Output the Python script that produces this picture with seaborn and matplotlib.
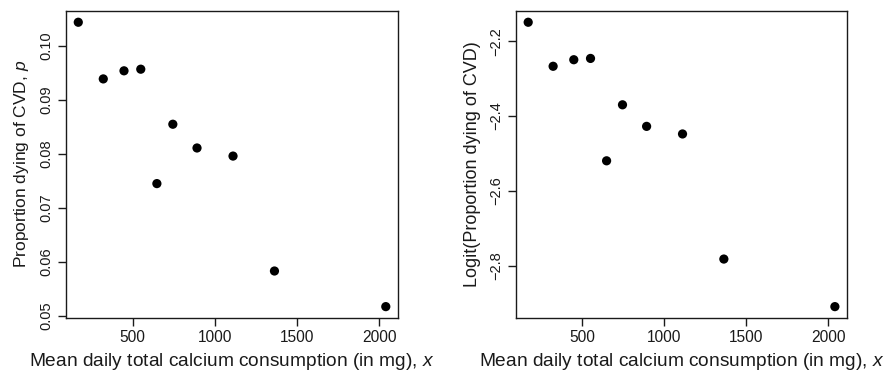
import numpy as np
import pandas as pd
import matplotlib
matplotlib.use("Agg")
import matplotlib.pyplot as plt
import seaborn as sns

# Mean daily total calcium consumption (mg) and proportion dying of CVD
calcium_mg = [169, 321, 447, 549, 647, 744, 891, 1110, 1362, 2039]
prop_cvd = [0.1044, 0.0939, 0.0954, 0.0957, 0.0745, 0.0855, 0.0811, 0.0796, 0.0583, 0.0517]

x_ticks = [500, 1000, 1500, 2000]
p_ticks = [0.05, 0.06, 0.07, 0.08, 0.09, 0.10]
logit_ticks = [-2.8, -2.6, -2.4, -2.2]

df = pd.DataFrame({"calcium": calcium_mg, "p": prop_cvd})
df["logit_p"] = np.log(df["p"] / (1 - df["p"]))

sns.set_style("ticks")
plt.rcParams["font.family"] = ["Liberation Sans", "DejaVu Sans"]
plt.rcParams["mathtext.fontset"] = "custom"
plt.rcParams["mathtext.rm"] = "Liberation Sans"
plt.rcParams["mathtext.it"] = "Liberation Sans:italic"

ink = "#1a1a1a"
fig = plt.figure(figsize=(8.88, 3.75), dpi=100)
ax1 = fig.add_axes([0.0743, 0.152, 0.374, 0.819])
ax2 = fig.add_axes([0.581, 0.152, 0.373, 0.819])


def r_style(ax, yticks, fmt):
    ax.margins(0.04)
    ax.set_xticks(x_ticks)
    ax.set_yticks(yticks)
    ax.set_yticklabels([fmt(v).replace("-", "\u2212") for v in yticks],
                       rotation=90, va="center")
    for s in ax.spines.values():
        s.set_visible(True)
        s.set_color(ink)
        s.set_linewidth(1.0)
    ax.tick_params(direction="out", length=6, width=1.0, colors=ink,
                   labelcolor=ink, pad=3)
    ax.tick_params(axis="x", labelsize=11.2)
    ax.tick_params(axis="y", labelsize=10.5)
    ax.grid(False)


xlab = "Mean daily total calcium consumption (in mg), $x$"

sns.scatterplot(data=df, x="calcium", y="p", ax=ax1, color="black",
                s=44, edgecolor="none", linewidth=0)
r_style(ax1, p_ticks, lambda v: f"{v:.2f}")
ax1.set_xlabel(xlab, fontsize=13.8, color=ink, labelpad=4)
ax1.set_ylabel("Proportion dying of CVD, $p$", fontsize=12.5, color=ink,
               labelpad=6)

sns.scatterplot(data=df, x="calcium", y="logit_p", ax=ax2, color="black",
                s=44, edgecolor="none", linewidth=0)
r_style(ax2, logit_ticks, lambda v: f"{v:.1f}")
ax2.set_xlabel(xlab, fontsize=13.8, color=ink, labelpad=4)
ax2.set_ylabel("Logit(Proportion dying of CVD)", fontsize=13, color=ink,
               labelpad=6)

fig.savefig("out.png", dpi=100)
